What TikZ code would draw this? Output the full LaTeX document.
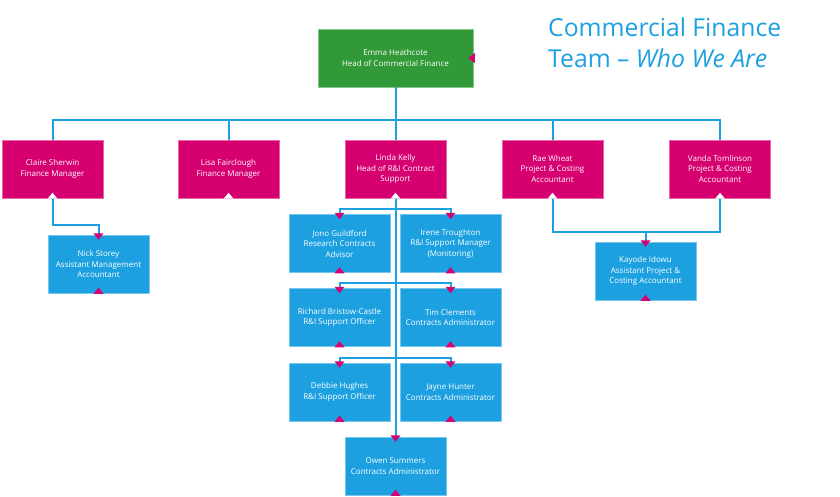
\documentclass[tikz,border=0pt]{standalone}
\usepackage{fontspec}
\setmainfont{Open Sans}
\usetikzlibrary{positioning}

\definecolor{mgreen}{RGB}{50,153,56}
\definecolor{mpink}{RGB}{214,0,112}
\definecolor{mblue}{RGB}{28,160,224}

% markers on the box edges
\newcommand{\downmark}[1]{\fill[mpink] ([xshift=-5pt,yshift=1.5pt]#1) -- ([xshift=5pt,yshift=1.5pt]#1) -- ([yshift=-5pt]#1) -- cycle;}
\newcommand{\upmark}[2]{\fill[#2] ([xshift=-5pt,yshift=-0.5pt]#1) -- ([xshift=5pt,yshift=-0.5pt]#1) -- ([yshift=5.5pt]#1) -- cycle;}
\newcommand{\sidemark}[1]{\fill[mpink] ([xshift=1.5pt,yshift=5pt]#1) -- ([xshift=1.5pt,yshift=-5pt]#1) -- ([xshift=-5pt]#1) -- cycle;}

\begin{document}
\begin{tikzpicture}[
          x=1pt, y=-1pt,
          box/.style={minimum width=101pt, minimum height=58pt, inner sep=1pt, align=center,
                      text=white, font=\fontsize{8}{10.5}\selectfont, line width=0.5pt},
          headbox/.style={box, fill=mgreen, draw=mgreen!60!white, minimum width=155pt},
          mgrbox/.style={box, fill=mpink, draw=mpink!60!white},
          staffbox/.style={box, fill=mblue, draw=mblue!60!white},
          title/.style={text=mblue, align=left, inner sep=0pt, font=\fontsize{24.7}{31}\selectfont},
          link/.style={mblue, line width=2pt}
        ]
        \fill[white] (0,0) rectangle (840,497);
        \useasboundingbox (0,0) rectangle (840,497);

        % -------- Title --------
        \node[title, anchor=north west] (title) at (548,18) {Commercial Finance\\Team -- \textit{Who We Are}};

        % -------- Head --------
        \node[headbox] (emma) at (395.5,58) {Emma Heathcote\\Head of Commercial Finance};

        % -------- Managers --------
        \node[mgrbox] (claire) at (52.5,169)  {Claire Sherwin\\Finance Manager};
        \node[mgrbox] (lisa)   at (228.5,169) {Lisa Fairclough\\Finance Manager};
        \node[mgrbox] (linda)  at (395.5,169) {Linda Kelly\\Head of R\&I Contract\\Support};
        \node[mgrbox] (rae)    at (552.5,169) {Rae Wheat\\Project \& Costing\\Accountant};
        \node[mgrbox] (vanda)  at (720,169)   {Vanda Tomlinson\\Project \& Costing\\Accountant};

        % -------- Staff --------
        \node[staffbox] (nick)    at (98.5,264)  {Nick Storey\\Assistant Management\\Accountant};
        \node[staffbox] (jono)    at (339.5,243.5) {Jono Guildford\\Research Contracts\\Advisor};
        \node[staffbox] (irene)   at (450.5,243.5) {Irene Troughton\\R\&I Support Manager\\(Monitoring)};
        \node[staffbox] (richard) at (339.5,317.5) {Richard Bristow-Castle\\R\&I Support Officer};
        \node[staffbox] (tim)     at (450.5,317.5) {Tim Clements\\Contracts Administrator};
        \node[staffbox] (debbie)  at (339.5,392)   {Debbie Hughes\\R\&I Support Officer};
        \node[staffbox] (jayne)   at (450.5,392)   {Jayne Hunter\\Contracts Administrator};
        \node[staffbox] (owen)    at (395.5,466)   {Owen Summers\\Contracts Administrator};
        \node[staffbox] (kayode)  at (645.5,271)   {Kayode Idowu\\Assistant Project \&\\Costing Accountant};

        % -------- Connectors --------
        \coordinate (tbar) at ([yshift=-33pt]emma.south);
        \draw[link] (emma.south) -- (linda.north);
        \draw[link] (claire.north) |- (tbar) -| (vanda.north);
        \draw[link] (lisa.north) -- (lisa.north |- tbar);
        \draw[link] (rae.north) -- (rae.north |- tbar);

        \draw[link] (claire.south) -- ++(0,27) -| (nick.north);

        \coordinate (kbar) at ([yshift=-34pt]rae.south);
        \draw[link] (rae.south) |- (kbar) -| (vanda.south);
        \draw[link] (kayode.north) -- (kayode.north |- kbar);

        \draw[link] (linda.south) -- (owen.north);
        \draw[link] (jono.north) -- ++(0,-5) -| (irene.north);
        \draw[link] (richard.north) -- ++(0,-5) -| (tim.north);
        \draw[link] (debbie.north) -- ++(0,-5) -| (jayne.north);

        % -------- Markers --------
        \sidemark{emma.east}
        \foreach \m in {claire,lisa,linda,rae,vanda}
          {\upmark{\m.south}{white}}
        \foreach \s in {nick,jono,irene,richard,tim,debbie,jayne,owen,kayode}
          {\downmark{\s.north} \upmark{\s.south}{mpink}}

      \end{tikzpicture}
\end{document}
